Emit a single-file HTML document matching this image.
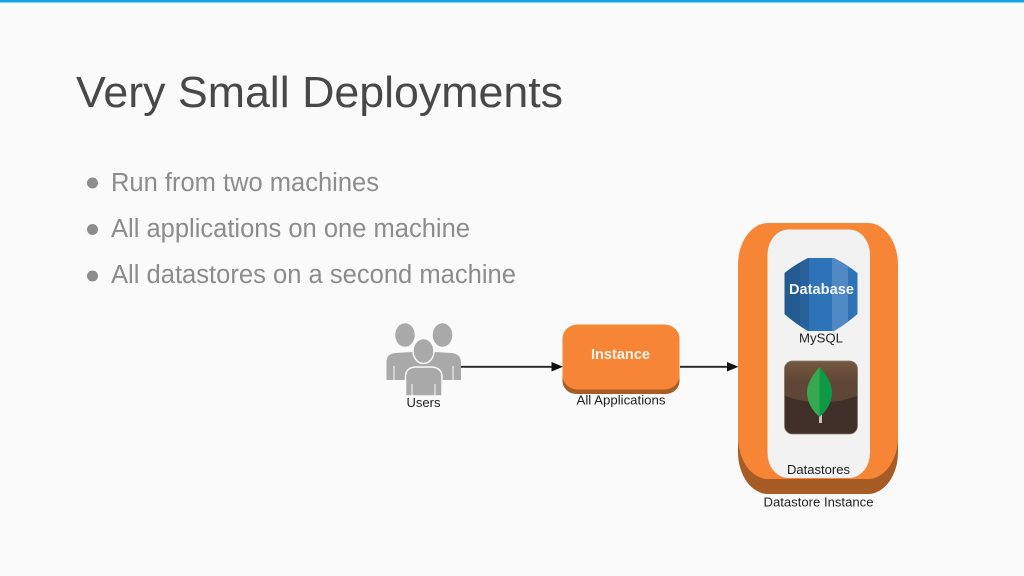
<!DOCTYPE html>
<html>
<head>
<meta charset="utf-8">
<style>
html,body{margin:0;padding:0;background:#fafafa}
svg{display:block}
text{font-family:"Liberation Sans",sans-serif}
</style>
</head>
<body>
<svg width="1024" height="576" viewBox="0 0 1024 576" xmlns="http://www.w3.org/2000/svg">
<defs>
<linearGradient id="mg" x1="0" y1="0" x2="0" y2="1"><stop offset="0" stop-color="#75583f"/><stop offset="0.5" stop-color="#5f4636"/></linearGradient>
<clipPath id="dbc"><path d="M784.5 273Q796 264 808 258H834Q846 264 857.500 273V314Q846 324 834 331H808Q796 324 784.500 314Z"/></clipPath>
</defs>
<rect width="1024" height="576" fill="#fafafa"/>
<rect width="1024" height="2.500" fill="#12a5e6"/>
<text x="76" y="107" font-size="44" fill="#484848" textLength="487" lengthAdjust="spacingAndGlyphs">Very Small Deployments</text>
<g fill="#8c8c8c">
<circle cx="92.500" cy="183" r="5.500"/><circle cx="92.500" cy="229.500" r="5.500"/><circle cx="92.500" cy="276" r="5.500"/>
<text x="111" y="191" font-size="25.500" textLength="268" lengthAdjust="spacingAndGlyphs">Run from two machines</text>
<text x="111" y="237" font-size="25.500" textLength="359" lengthAdjust="spacingAndGlyphs">All applications on one machine</text>
<text x="111" y="283" font-size="25.500" textLength="405" lengthAdjust="spacingAndGlyphs">All datastores on a second machine</text>
</g>
<!-- users -->
<g fill="#a9a9a9" stroke="#fafafa" stroke-width="1.500">
<ellipse cx="405" cy="335" rx="10.500" ry="12.500"/><ellipse cx="442.500" cy="335" rx="10.500" ry="12.500"/>
<path d="M386.500 380V362Q386.500 354 395 353L412 352H435L452 353Q460.500 354 461 362V380Z" stroke="none"/>
<ellipse cx="423.500" cy="351" rx="10.500" ry="12.500"/>
<path d="M405.500 396V377Q405.500 368 415 367H432Q442 368 442 377V396Z"/>
</g>
<path d="M394 366V380M453 366V380M412 384V396M435 384V396" fill="none" stroke="#fafafa" stroke-width="1"/>
<text x="406.500" y="407" font-size="12.500" fill="#222" textLength="34" lengthAdjust="spacingAndGlyphs">Users</text>
<!-- connectors -->
<path d="M461 366.800H553M680 366.800H728" stroke="#222" stroke-width="1.800" fill="none"/>
<path d="M551.500 362L563 366.800L551.500 371.500ZM727 362L738.500 366.800L727 371.500Z" fill="#111"/>
<!-- instance -->
<rect x="562.500" y="331" width="117" height="63" rx="14" ry="13" fill="#a65c24"/>
<rect x="562.500" y="324.500" width="117" height="65" rx="15" ry="14" fill="#f68535"/>
<text x="591" y="359" font-size="14.500" font-weight="bold" fill="#fbf3ea" textLength="59" lengthAdjust="spacingAndGlyphs">Instance</text>
<text x="576.500" y="404.500" font-size="12.800" fill="#222" textLength="89" lengthAdjust="spacingAndGlyphs">All Applications</text>
<!-- datastore -->
<rect x="738" y="240" width="160" height="254" rx="30" ry="42" fill="#a65c24"/>
<rect x="738" y="223" width="160" height="256" rx="30" ry="42" fill="#f68535"/>
<rect x="767.500" y="229.500" width="102.500" height="248.500" rx="21" ry="25" fill="#f2f2f2"/>
<g clip-path="url(#dbc)">
<rect x="784" y="258" width="74" height="73" fill="#2e73b8"/>
<rect x="784" y="258" width="16" height="73" fill="#235a90"/>
<rect x="800" y="258" width="9" height="73" fill="#29619b"/>
<rect x="832" y="258" width="16" height="73" fill="#4f88c3"/>
</g>
<text x="789" y="294" font-size="14.500" font-weight="bold" fill="#f2f6fa" textLength="65" lengthAdjust="spacingAndGlyphs">Database</text>
<text x="799" y="342.500" font-size="12.800" fill="#222" textLength="44" lengthAdjust="spacingAndGlyphs">MySQL</text>
<rect x="784.500" y="361" width="73" height="73" rx="8" fill="#41302a"/>
<path d="M785 369Q785 361 793 361H849Q857 361 857 369V396Q821 409 785 396Z" fill="url(#mg)"/>
<rect x="784.500" y="361" width="73" height="73" rx="8" fill="none" stroke="#85786f" stroke-width="0.800"/>
<path d="M819 423V412H822V423Z" fill="#c8c4b8"/>
<path d="M819.500 367Q807 381 807 392Q807 406 819.500 417Z" fill="#36a84f"/>
<path d="M819.500 367Q832 381 832 392Q832 406 819.500 417Z" fill="#0d9a47"/>
<text x="787" y="474" font-size="13" fill="#222" textLength="63" lengthAdjust="spacingAndGlyphs">Datastores</text>
<text x="763.500" y="506.500" font-size="12.800" fill="#222" textLength="110" lengthAdjust="spacingAndGlyphs">Datastore Instance</text>
</svg>
</body>
</html>
